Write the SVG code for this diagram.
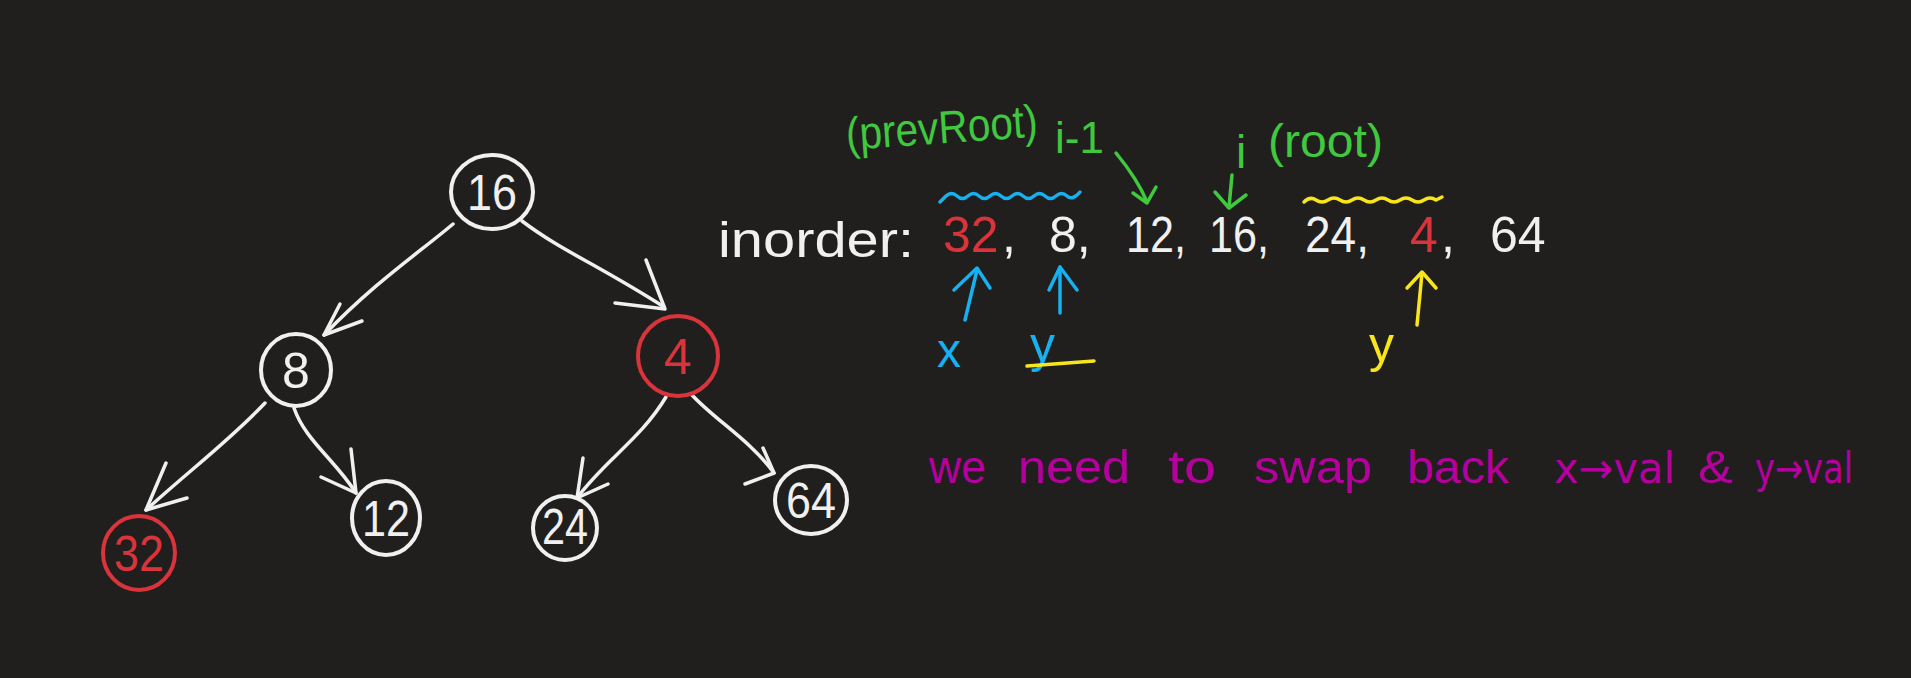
<svg xmlns="http://www.w3.org/2000/svg" width="1911" height="678" viewBox="0 0 1911 678">
<style>
.n{fill:none;stroke:#f0f0f0;stroke-width:4}
.nr{fill:none;stroke:#d9343b;stroke-width:4}
.lbl{font-family:"Liberation Sans",Arial,sans-serif;font-size:50px;text-anchor:middle;fill:#f0f0f0}
.e{fill:none;stroke:#f0f0f0;stroke-width:3.5;stroke-linecap:round;stroke-linejoin:round}
.t{font-family:"Liberation Sans",Arial,sans-serif;fill:#f0f0f0}
.ar{font-family:"DejaVu Sans",sans-serif}
.lbl.lr,.t.lr{fill:#d9343b}
.t.g{fill:#40c83f}
.t.b{fill:#17b1f0}
.t.y{fill:#f8e51c}
.t.p{fill:#b5009e}
.sg{fill:none;stroke:#40c83f;stroke-width:3.5;stroke-linecap:round;stroke-linejoin:round}
.sb{fill:none;stroke:#17b1f0;stroke-width:3.5;stroke-linecap:round;stroke-linejoin:round}
.sy{fill:none;stroke:#f8e51c;stroke-width:3.5;stroke-linecap:round;stroke-linejoin:round}
</style>
<rect x="0" y="0" width="1911" height="678" fill="#201f1e"/>
<g id="connectors">
<path class="e" d="M453,224 C420,252 375,282 324,335"/>
<path class="e" d="M362,321 L324,335 L340,304"/>
<path class="e" d="M522,221 C560,250 600,266 664,307"/>
<path class="e" d="M646,260 L665,309 L615,303"/>
<path class="e" d="M265,403 C230,440 190,470 146,510"/>
<path class="e" d="M166,463 L146,510 L187,498"/>
<path class="e" d="M294,408 C305,440 335,460 356,493"/>
<path class="e" d="M351,449 L356,493 L321,477"/>
<path class="e" d="M666,397 C640,440 605,460 577,498"/>
<path class="e" d="M583,458 L577,498 L608,484"/>
<path class="e" d="M692,395 C715,420 750,440 774,473"/>
<path class="e" d="M763,448 L774,473 L745,484"/>
</g>
<g id="node16"><ellipse class="n" cx="492" cy="192" rx="41" ry="37"/><text class="lbl" x="492" y="210" textLength="50" lengthAdjust="spacingAndGlyphs">16</text></g>
<g id="node8"><ellipse class="n" cx="296" cy="370" rx="35" ry="36"/><text class="lbl" x="296" y="388">8</text></g>
<g id="node4"><ellipse class="nr" cx="678" cy="356" rx="40" ry="40"/><text class="lbl lr" x="678" y="374">4</text></g>
<g id="node32"><ellipse class="nr" cx="139" cy="553" rx="36" ry="37"/><text class="lbl lr" x="139" y="571" textLength="50" lengthAdjust="spacingAndGlyphs">32</text></g>
<g id="node12"><ellipse class="n" cx="386" cy="518" rx="34" ry="37"/><text class="lbl" x="386" y="536" textLength="48" lengthAdjust="spacingAndGlyphs">12</text></g>
<g id="node24"><ellipse class="n" cx="565" cy="528" rx="32" ry="32"/><text class="lbl" x="565" y="544" font-size="44" textLength="46" lengthAdjust="spacingAndGlyphs">24</text></g>
<g id="node64"><ellipse class="n" cx="811" cy="500" rx="36" ry="34"/><text class="lbl" x="811" y="518" textLength="50" lengthAdjust="spacingAndGlyphs">64</text></g>
<g id="inorder">
<text class="t" x="718" y="257" font-size="50" textLength="196" lengthAdjust="spacingAndGlyphs">inorder:</text>
<g font-size="50">
<text class="t lr" x="943" y="252">32</text>
<text class="t" x="1002" y="252">,</text>
<text class="t" x="1049" y="252">8,</text>
<text class="t" x="1126" y="252" textLength="60" lengthAdjust="spacingAndGlyphs">12,</text>
<text class="t" x="1209" y="252" textLength="60" lengthAdjust="spacingAndGlyphs">16,</text>
<text class="t" x="1305" y="252" textLength="64" lengthAdjust="spacingAndGlyphs">24,</text>
<text class="t lr" x="1410" y="252">4</text>
<text class="t" x="1441" y="252">,</text>
<text class="t" x="1490" y="252">64</text>
</g>
</g>
<g id="annotations">
<text class="t g" x="847" y="150" font-size="46" transform="rotate(-4 847 150)" textLength="192" lengthAdjust="spacingAndGlyphs">(prevRoot)</text>
<text class="t g" x="1055" y="153" font-size="44">i-1</text>
<text class="t g" x="1236" y="168" font-size="46">i</text>
<text class="t g" x="1268" y="157" font-size="46" textLength="115" lengthAdjust="spacingAndGlyphs">(root)</text>
<path class="sg" d="M1116,153 C1130,170 1140,185 1147,202"/>
<path class="sg" d="M1133,193 L1147,203 L1156,187"/>
<path class="sg" d="M1232,175 L1229,207"/>
<path class="sg" d="M1215,192 L1229,208 L1246,195"/>
<path class="sb" d="M940,202 L946,196 Q951.5,191 957,196 T968,196 T979,196 T990,196 T1001,196 T1012,196 T1023,196 T1034,196 T1045,196 T1056,196 T1067,196 T1080,192"/>
<path class="sy" d="M1304,202 Q1310,196 1316,200 T1328,200 T1340,200 T1352,200 T1364,200 T1376,200 T1388,200 T1400,200 T1412,200 T1424,200 T1436,200 L1442,197"/>
<path class="sb" d="M965,320 L977,270"/>
<path class="sb" d="M954,290 L977,268 L990,288"/>
<path class="sb" d="M1060,313 L1060,267"/>
<path class="sb" d="M1049,290 L1060,267 L1077,290"/>
<path class="sy" d="M1417,325 L1422,273"/>
<path class="sy" d="M1407,288 L1422,272 L1436,288"/>
<text class="t b" x="937" y="367" font-size="48">x</text>
<text class="t b" x="1030" y="362" font-size="50">y</text>
<path class="sy" d="M1027,366 L1094,361"/>
<text class="t y" x="1369" y="362" font-size="50">y</text>
</g>
<g id="note" font-size="46">
<text class="t p" x="929" y="483" textLength="57" lengthAdjust="spacingAndGlyphs">we</text>
<text class="t p" x="1018" y="483" textLength="112" lengthAdjust="spacingAndGlyphs">need</text>
<text class="t p" x="1168" y="483" textLength="48" lengthAdjust="spacingAndGlyphs">to</text>
<text class="t p" x="1254" y="483" textLength="118" lengthAdjust="spacingAndGlyphs">swap</text>
<text class="t p" x="1407" y="483" textLength="102" lengthAdjust="spacingAndGlyphs">back</text>
<text class="t p ar" x="1554" y="483" font-size="42" textLength="121" lengthAdjust="spacingAndGlyphs">x→val</text>
<text class="t p" x="1698" y="483" textLength="35" lengthAdjust="spacingAndGlyphs">&amp;</text>
<text class="t p ar" x="1755" y="483" font-size="42" textLength="98" lengthAdjust="spacingAndGlyphs">y→val</text>
</g>
</svg>
